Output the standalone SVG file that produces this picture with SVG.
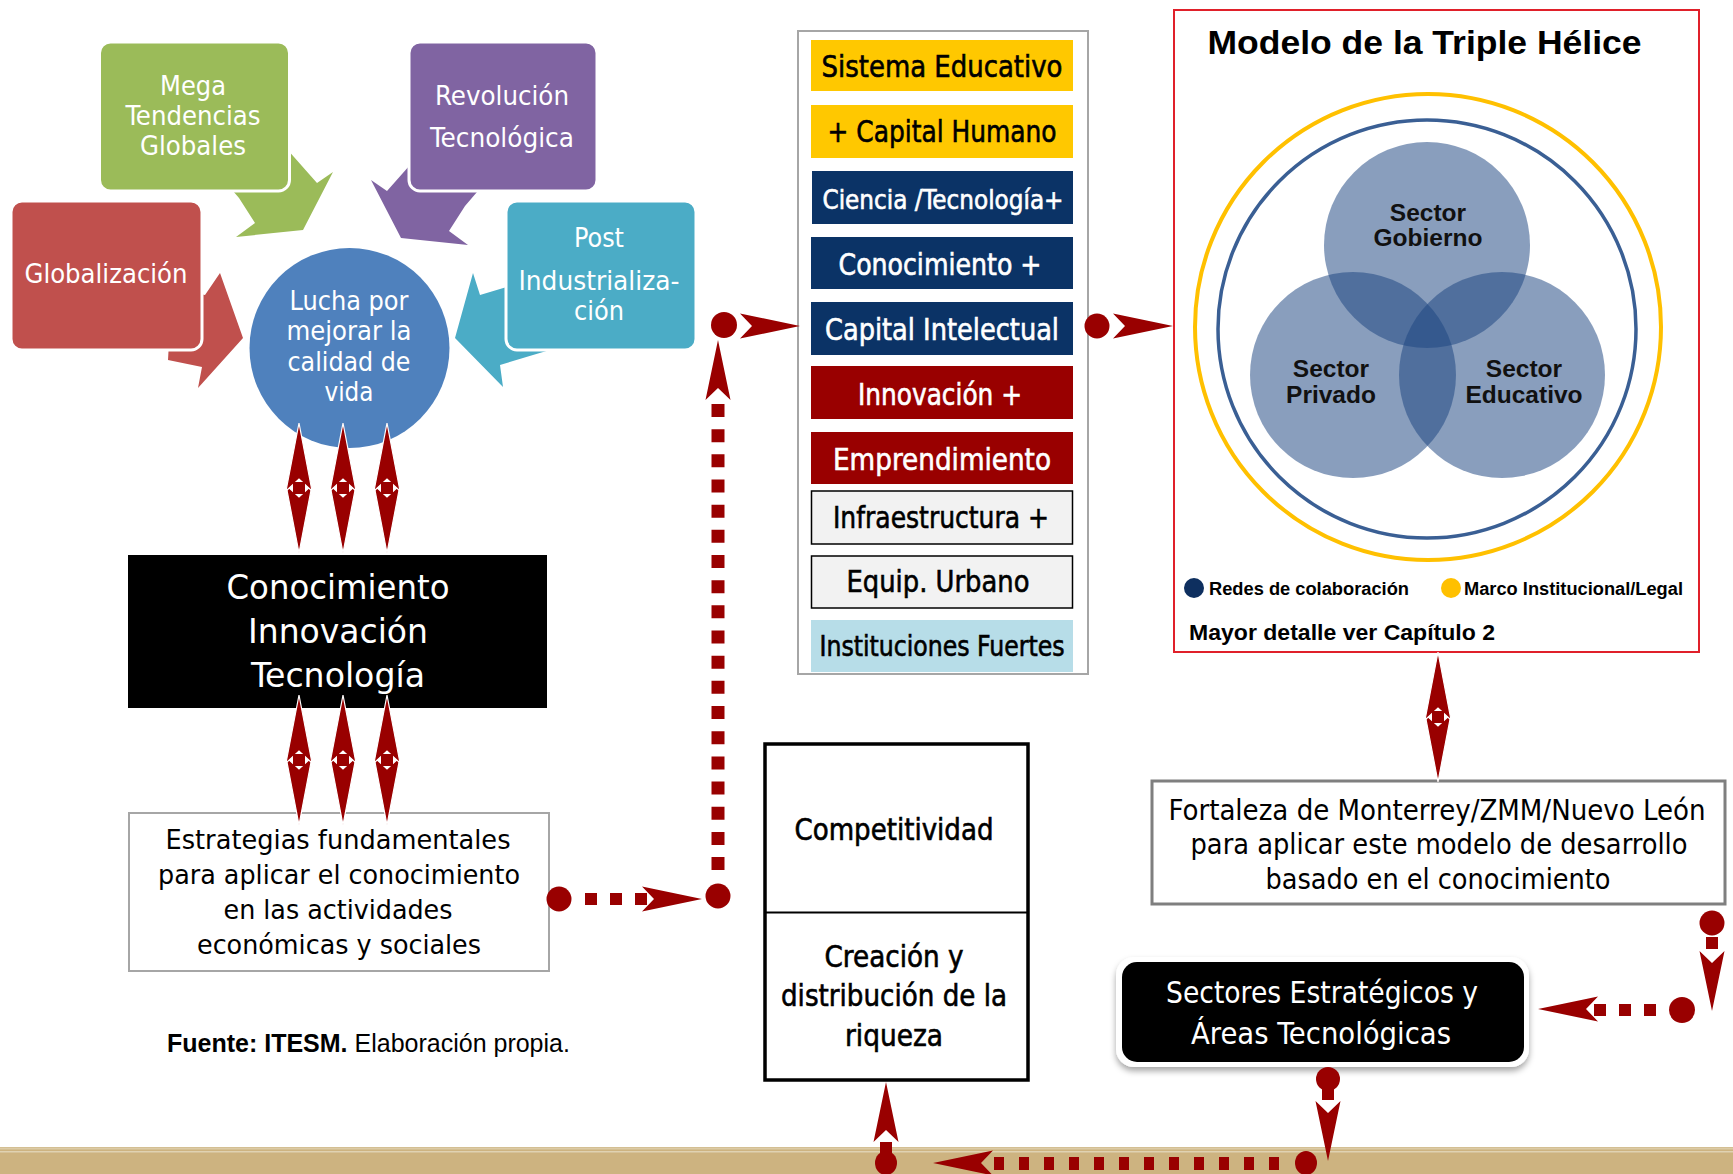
<svg xmlns="http://www.w3.org/2000/svg" width="1733" height="1174" viewBox="0 0 1733 1174">
<style>
.n{font-family:'Liberation Sans Narrow','DejaVu Sans Condensed','Liberation Sans',sans-serif;text-anchor:middle}
.w{fill:#fff}
.k{fill:#000}
.bb{font-family:'Liberation Sans',Arial,sans-serif;font-weight:bold}
.cr{fill:#990000}
.box{stroke:#fff;stroke-width:3}
.th{stroke-width:0.6}
.th.w{stroke:#fff}
.th.k{stroke:#000}
</style>
<defs>
<path id="hd" d="M0,0 L12.5,60 L0,48 L-12.5,60 Z" fill="#990000"/>
<g id="dbl">
<path d="M0,130 L13,62 L0,74 L-13,62 Z" fill="#990000" stroke="#fff" stroke-width="1.2"/>
<path d="M0,0 L13,68 L0,56 L-13,68 Z" fill="#990000" stroke="#fff" stroke-width="1.2"/>
<rect x="-6" y="59" width="12" height="12" fill="#990000"/>
</g>
<filter id="sh" x="-10%" y="-20%" width="120%" height="150%">
<feDropShadow dx="0" dy="4" stdDeviation="3" flood-color="#000" flood-opacity="0.35"/>
</filter>
</defs>
<rect width="1733" height="1174" fill="#fff"/>
<g id="band">
<rect x="0" y="1147" width="1733" height="27" fill="#CDB380"/>
<rect x="0" y="1147.5" width="1733" height="2" fill="#DCCBA6"/>
<rect x="0" y="1151" width="1733" height="1.5" fill="#E0D2B2"/>
</g>
<g id="arrows-cycle">
<polygon points="270,130 294,157 317,183 333,172 303,230 236,237 255,223 239,198 215,170" fill="#9BBB59"/>
<polygon points="434,138 410,165 387,191 371,180 401,238 468,245 449,231 465,206 489,178" fill="#8064A2"/>
<polygon points="172,288 205,295 220,273 243,338 198,388 202,367 168,360" fill="#C0504D"/>
<polygon points="513,285 480,295 473,273 455,338 503,387 500,365 533,355 560,347" fill="#4BACC6"/>
</g>
<g id="n-mega">
<rect class="box" x="99.5" y="42" width="190" height="149" rx="11" fill="#9BBB59"/>
<text class="n w" font-size="27" x="193" y="95" textLength="66" lengthAdjust="spacingAndGlyphs">Mega</text>
<text class="n w" font-size="27" x="193" y="125" textLength="135" lengthAdjust="spacingAndGlyphs">Tendencias</text>
<text class="n w" font-size="27" x="193" y="155" textLength="106" lengthAdjust="spacingAndGlyphs">Globales</text>
</g>
<g id="n-revolucion">
<rect class="box" x="409" y="42" width="188" height="149" rx="11" fill="#8064A2"/>
<text class="n w" font-size="27" x="502" y="105" textLength="134" lengthAdjust="spacingAndGlyphs">Revolución</text>
<text class="n w" font-size="27" x="502" y="147" textLength="144" lengthAdjust="spacingAndGlyphs">Tecnológica</text>
</g>
<g id="n-globalizacion">
<rect class="box" x="11" y="201" width="191" height="149" rx="11" fill="#C0504D"/>
<text class="n w" font-size="27" x="106" y="283" textLength="163" lengthAdjust="spacingAndGlyphs">Globalización</text>
</g>
<g id="n-post">
<rect class="box" x="506" y="201" width="190" height="149" rx="11" fill="#4BACC6"/>
<text class="n w" font-size="27" x="599" y="247" textLength="50" lengthAdjust="spacingAndGlyphs">Post</text>
<text class="n w" font-size="27" x="599" y="290" textLength="161" lengthAdjust="spacingAndGlyphs">Industrializa-</text>
<text class="n w" font-size="27" x="599" y="320" textLength="50" lengthAdjust="spacingAndGlyphs">ción</text>
</g>
<g id="n-lucha">
<circle cx="349.5" cy="348" r="100" fill="#4F81BD"/>
<text class="n w" font-size="27" x="349" y="310" textLength="119" lengthAdjust="spacingAndGlyphs">Lucha por</text>
<text class="n w" font-size="27" x="349" y="340" textLength="125" lengthAdjust="spacingAndGlyphs">mejorar la</text>
<text class="n w" font-size="27" x="349" y="371" textLength="123" lengthAdjust="spacingAndGlyphs">calidad de</text>
<text class="n w" font-size="27" x="349" y="401" textLength="49" lengthAdjust="spacingAndGlyphs">vida</text>
</g>
<g id="n-cit">
<rect x="128" y="555" width="419" height="153" fill="#000"/>
<text class="n w" font-size="33" x="338" y="599" textLength="223" lengthAdjust="spacingAndGlyphs">Conocimiento</text>
<text class="n w" font-size="33" x="338" y="643" textLength="180" lengthAdjust="spacingAndGlyphs">Innovación</text>
<text class="n w" font-size="33" x="338" y="687" textLength="174" lengthAdjust="spacingAndGlyphs">Tecnología</text>
</g>
<g id="n-estrategias">
<rect x="129" y="813" width="420" height="158" fill="#fff" stroke="#A6A6A6" stroke-width="2"/>
<text class="n k" font-size="27" x="338" y="849" textLength="345" lengthAdjust="spacingAndGlyphs">Estrategias fundamentales</text>
<text class="n k" font-size="27" x="339" y="884" textLength="362" lengthAdjust="spacingAndGlyphs">para aplicar el conocimiento</text>
<text class="n k" font-size="27" x="338" y="919" textLength="229" lengthAdjust="spacingAndGlyphs">en las actividades</text>
<text class="n k" font-size="27" x="339" y="954" textLength="284" lengthAdjust="spacingAndGlyphs">económicas y sociales</text>
</g>
<g id="n-fuente">
<text font-family="'Liberation Sans',Arial,sans-serif" font-size="25" x="167" y="1052" fill="#000"><tspan font-weight="bold">Fuente: ITESM.</tspan> Elaboración propia.</text>
</g>
<g id="n-lista">
<rect x="798" y="31" width="290" height="643" fill="#fff" stroke="#A6A6A6" stroke-width="2"/>
<rect x="811" y="40" width="262" height="51" fill="#FFC800"/>
<text class="n k th" font-size="31" x="942" y="77" textLength="241" lengthAdjust="spacingAndGlyphs">Sistema Educativo</text>
<rect x="811" y="105" width="262" height="53" fill="#FFC800"/>
<text class="n k th" font-size="31" x="942" y="142" textLength="229" lengthAdjust="spacingAndGlyphs">+ Capital Humano</text>
<rect x="812" y="171" width="261" height="53" fill="#0B3366"/>
<text class="n w th" font-size="27" x="943" y="209" textLength="241" lengthAdjust="spacingAndGlyphs">Ciencia /Tecnología+</text>
<rect x="811" y="237" width="262" height="52" fill="#0B3366"/>
<text class="n w th" font-size="31" x="940" y="275" textLength="203" lengthAdjust="spacingAndGlyphs">Conocimiento +</text>
<rect x="811" y="302" width="262" height="53" fill="#0B3366"/>
<text class="n w th" font-size="31" x="942" y="340" textLength="234" lengthAdjust="spacingAndGlyphs">Capital Intelectual</text>
<rect x="811" y="366" width="262" height="53" fill="#990000"/>
<text class="n w th" font-size="31" x="940" y="405" textLength="164" lengthAdjust="spacingAndGlyphs">Innovación +</text>
<rect x="811" y="432" width="262" height="52" fill="#990000"/>
<text class="n w th" font-size="31" x="942" y="470" textLength="218" lengthAdjust="spacingAndGlyphs">Emprendimiento</text>
<rect x="811.5" y="491" width="261" height="53" fill="#F2F2F2" stroke="#000" stroke-width="1.5"/>
<text class="n k th" font-size="31" x="941" y="528" textLength="216" lengthAdjust="spacingAndGlyphs">Infraestructura +</text>
<rect x="811.5" y="556" width="261" height="52" fill="#F2F2F2" stroke="#000" stroke-width="1.5"/>
<text class="n k th" font-size="31" x="938" y="592" textLength="183" lengthAdjust="spacingAndGlyphs">Equip. Urbano</text>
<rect x="811" y="620" width="262" height="52" fill="#B7DDE8"/>
<text class="n k th" font-size="28" x="942" y="656" textLength="245" lengthAdjust="spacingAndGlyphs">Instituciones Fuertes</text>
</g>
<g id="n-helice">
<rect x="1174" y="10" width="525" height="642" fill="#fff" stroke="#E0202A" stroke-width="2"/>
<text class="bb" font-size="34" x="1424.5" y="54" text-anchor="middle" textLength="434" lengthAdjust="spacingAndGlyphs">Modelo de la Triple Hélice</text>
<circle cx="1428" cy="327" r="233" fill="none" stroke="#FFC000" stroke-width="4"/>
<circle cx="1427" cy="329" r="209" fill="none" stroke="#3A5F94" stroke-width="3.5"/>
<g fill="#1C4580" fill-opacity="0.52">
<circle cx="1427" cy="245" r="103"/>
<circle cx="1353" cy="375" r="103"/>
<circle cx="1502" cy="375" r="103"/>
</g>
<g class="bb" font-size="24.5" fill="#111" text-anchor="middle">
<text x="1428" y="221">Sector</text>
<text x="1428" y="246">Gobierno</text>
<text x="1331" y="377">Sector</text>
<text x="1331" y="403">Privado</text>
<text x="1524" y="377">Sector</text>
<text x="1524" y="403">Educativo</text>
</g>
<circle cx="1194" cy="588" r="10" fill="#0E2F5F"/>
<text class="bb" font-size="17.5" x="1209" y="595" textLength="200" lengthAdjust="spacingAndGlyphs">Redes de colaboración</text>
<circle cx="1451" cy="588" r="10" fill="#FFC000"/>
<text class="bb" font-size="17.5" x="1464" y="595" textLength="219" lengthAdjust="spacingAndGlyphs">Marco Institucional/Legal</text>
<text class="bb" font-size="21.5" x="1189" y="640" textLength="306" lengthAdjust="spacingAndGlyphs">Mayor detalle ver Capítulo 2</text>
</g>
<g id="n-fortaleza">
<rect x="1152" y="781" width="573" height="123" fill="#fff" stroke="#7F7F7F" stroke-width="3"/>
<text class="n k" font-size="28" x="1437" y="820" textLength="537" lengthAdjust="spacingAndGlyphs">Fortaleza de Monterrey/ZMM/Nuevo León</text>
<text class="n k" font-size="28" x="1439" y="854" textLength="497" lengthAdjust="spacingAndGlyphs">para aplicar este modelo de desarrollo</text>
<text class="n k" font-size="28" x="1438" y="889" textLength="345" lengthAdjust="spacingAndGlyphs">basado en el conocimiento</text>
</g>
<g id="n-sectores">
<rect x="1116" y="957" width="413" height="110" rx="18" fill="#fff" filter="url(#sh)"/>
<rect x="1122" y="962" width="402" height="100" rx="15" fill="#000"/>
<text class="n w" font-size="31" x="1322" y="1003" textLength="312" lengthAdjust="spacingAndGlyphs">Sectores Estratégicos y</text>
<text class="n w" font-size="31" x="1321" y="1044" textLength="260" lengthAdjust="spacingAndGlyphs">Áreas Tecnológicas</text>
</g>
<g id="n-competitividad">
<rect x="765" y="744" width="263" height="336" fill="#fff" stroke="#000" stroke-width="3.5"/>
<line x1="765" y1="912.5" x2="1028" y2="912.5" stroke="#000" stroke-width="2"/>
<text class="n k th" font-size="31" x="894" y="840" textLength="199" lengthAdjust="spacingAndGlyphs">Competitividad</text>
<text class="n k th" font-size="31" x="894" y="967" textLength="139" lengthAdjust="spacingAndGlyphs">Creación y</text>
<text class="n k th" font-size="31" x="894" y="1006" textLength="226" lengthAdjust="spacingAndGlyphs">distribución de la</text>
<text class="n k th" font-size="31" x="894" y="1046" textLength="98" lengthAdjust="spacingAndGlyphs">riqueza</text>
</g>
<g id="connectors">
<use href="#dbl" x="299" y="423"/>
<use href="#dbl" x="343" y="423"/>
<use href="#dbl" x="387" y="423"/>
<use href="#dbl" x="299" y="695"/>
<use href="#dbl" x="343" y="695"/>
<use href="#dbl" x="387" y="695"/>
<circle class="cr" cx="559" cy="899" r="12.5"/>
<rect class="cr" x="585" y="893" width="12" height="12"/>
<rect class="cr" x="610" y="893" width="12" height="12"/>
<rect class="cr" x="635" y="893" width="12" height="12"/>
<use href="#hd" transform="translate(702,899) rotate(90)"/>
<circle class="cr" cx="718" cy="896" r="12.5"/>
<path d="M718,404 V870" stroke="#990000" stroke-width="13" stroke-dasharray="13 12.17" fill="none"/>
<use href="#hd" transform="translate(718,340)"/>
<circle class="cr" cx="724" cy="325" r="13"/>
<use href="#hd" transform="translate(800,326) rotate(90)"/>
<circle class="cr" cx="1097" cy="326" r="12.5"/>
<use href="#hd" transform="translate(1173,326) rotate(90)"/>
<use href="#dbl" x="1438" y="652"/>
<circle class="cr" cx="1712" cy="923" r="12.5"/>
<rect class="cr" x="1706" y="937" width="12" height="12"/>
<use href="#hd" transform="translate(1712,1011) rotate(180)"/>
<circle class="cr" cx="1682" cy="1010" r="13"/>
<rect class="cr" x="1644" y="1004" width="12" height="12"/>
<rect class="cr" x="1619" y="1004" width="12" height="12"/>
<rect class="cr" x="1594" y="1004" width="12" height="12"/>
<use href="#hd" transform="translate(1538,1009) rotate(-90)"/>
<circle class="cr" cx="1328" cy="1079" r="12"/>
<rect class="cr" x="1322" y="1089" width="12" height="11"/>
<use href="#hd" transform="translate(1328,1161) rotate(180)"/>
<ellipse class="cr" cx="1306" cy="1163" rx="11" ry="12"/>
<path d="M1279,1163.5 H992" stroke="#990000" stroke-width="13" stroke-dasharray="10 15" fill="none"/>
<use href="#hd" transform="translate(933,1163) rotate(-90)"/>
<ellipse class="cr" cx="886" cy="1163" rx="11" ry="12"/>
<rect class="cr" x="880" y="1142" width="12" height="11"/>
<use href="#hd" transform="translate(886,1082)"/>
</g>
</svg>
